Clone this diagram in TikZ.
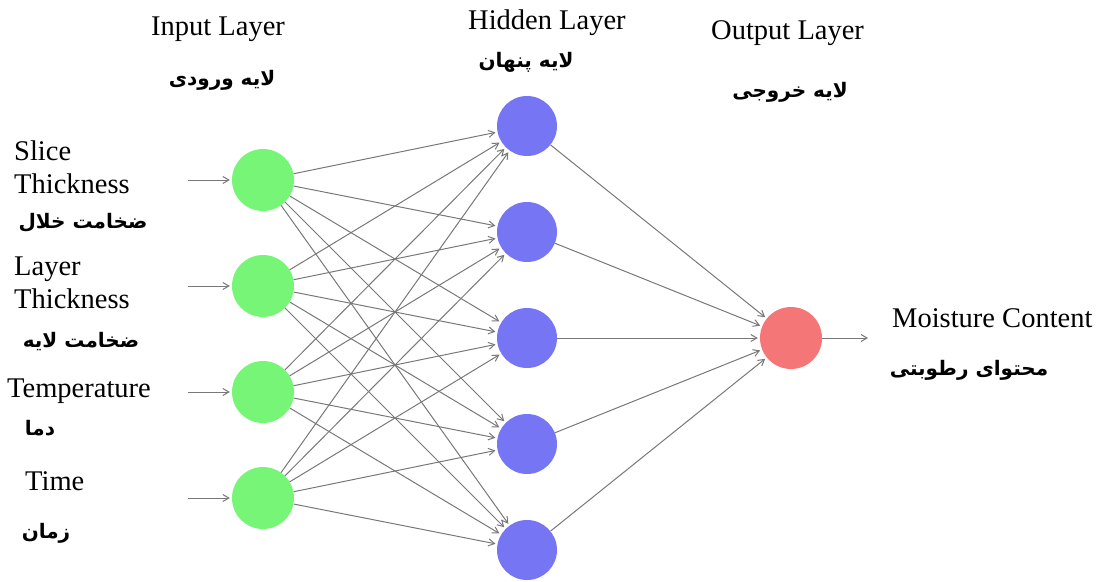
\documentclass[tikz,border=0pt]{standalone}
\usepackage{fontspec}
\setmainfont{Liberation Serif}
\newfontfamily\fa[Script=Arabic]{DejaVu Sans}
\TeXXeTstate=1
\usetikzlibrary{arrows.meta}
\definecolor{ingreen}{RGB}{119,245,119}
\definecolor{hidblue}{RGB}{118,118,245}
\definecolor{outred}{RGB}{245,118,118}
\definecolor{edgegray}{RGB}{120,120,120}
\tikzset{
  neuron/.style={circle,minimum size=62pt,inner sep=0pt,draw=none},
  conn/.style={draw=edgegray,line width=1pt,-{Straight Barb[length=6pt,width=7pt]},shorten >=2pt},
  entxt/.style={font=\fontsize{28.5}{31}\selectfont,inner sep=0pt},
  fatxt/.style={font=\fa\bfseries\fontsize{20}{22}\selectfont,inner sep=0pt},
}
\begin{document}
\begin{tikzpicture}[x=1pt,y=-1pt]
\useasboundingbox (0,0) rectangle (1103,581);
% neurons
\foreach \i/\y in {1/180,2/286,3/392,4/498}
  \node[neuron,fill=ingreen] (i\i) at (263,\y) {};
\foreach \j/\y in {1/126,2/232,3/338,4/444,5/550}
  \node[neuron,fill=hidblue,minimum size=60pt] (h\j) at (527,\y) {};
\node[neuron,fill=outred] (o) at (791,338) {};
% connectors
\foreach \i in {1,...,4}
  \foreach \j in {1,...,5}
    \draw[conn] (i\i) -- (h\j);
\foreach \j in {1,...,5}
  \draw[conn] (h\j) -- (o);
% input arrows
\foreach \i/\y in {1/180,2/286,3/392,4/498}{
  \coordinate (s\i) at (188,\y);
  \draw[conn] (s\i) -- (i\i);
}
\coordinate (out) at (868,338);
\draw[conn,shorten >=0pt] (o) -- (out);
% English labels
\node[entxt,anchor=base west] (tin) at (151,35) {Input Layer};
\node[entxt,anchor=base west] (thid) at (468,29) {Hidden Layer};
\node[entxt,anchor=base west] (tout) at (711,39) {Output Layer};
\node[entxt,anchor=base west] (l1a) at (14,160) {Slice};
\node[entxt,anchor=base west] (l1b) at (14,193) {Thickness};
\node[entxt,anchor=base west] (l2a) at (14,275) {Layer};
\node[entxt,anchor=base west] (l2b) at (14,308) {Thickness};
\node[entxt,anchor=base west] (l3) at (7,397) {Temperature};
\node[entxt,anchor=base west] (l4) at (25,490) {Time};
\node[entxt,anchor=base west] (lo) at (892,327) {Moisture Content};
% Persian labels
\node[fatxt] (fin) at (222,80) {\beginR لایه ورودی\endR};
\node[fatxt] (fhid) at (526,62) {\beginR لایه پنهان\endR};
\node[fatxt] (fout) at (790,92) {\beginR لایه خروجی\endR};
\node[fatxt] (f1) at (83,223) {\beginR ضخامت خلال\endR};
\node[fatxt] (f2) at (81,342) {\beginR ضخامت لایه\endR};
\node[fatxt] (f3) at (40,428) {\beginR دما\endR};
\node[fatxt] (f4) at (46,533) {\beginR زمان\endR};
\node[fatxt] (fo) at (969,370) {\beginR محتوای رطوبتی\endR};
\end{tikzpicture}
\end{document}
